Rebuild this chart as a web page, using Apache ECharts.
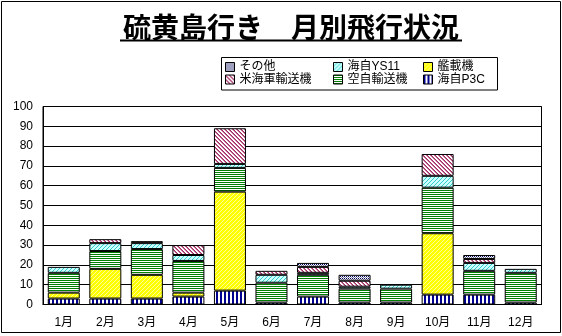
<!DOCTYPE html>
<html>
<head>
<meta charset="utf-8">
<script src="https://cdn.jsdelivr.net/npm/echarts@6/dist/echarts.min.js"></script>
<style>
html,body{margin:0;padding:0;background:#fff;}
#chart{width:562px;height:336px;}
</style>
</head>
<body>
<div id="chart"></div>
<script>
const titleText = '硫黄島行き　月別飛行状況';
const months = ['1月','2月','3月','4月','5月','6月','7月','8月','9月','10月','11月','12月'];
const yTicks = {min: 0, max: 100, interval: 10};

// stacked from bottom to top
const p3c    = [3, 3, 3, 4, 7, 1, 4, 1, 1, 5, 5, 1];   // 海自P3C
const kansai = [3, 15, 12, 2, 50, 0, 0, 0, 0, 31, 0, 0]; // 艦載機
const kuji   = [10, 9, 13, 16, 12, 10, 11, 7, 7, 23, 12, 15]; // 空自輸送機
const ys11   = [3, 4, 3, 3, 2, 4, 1, 1, 2, 6, 4, 2];   // 海自YS11
const usnavy = [0, 2, 1, 5, 18, 2, 3, 3, 0, 11, 2, 0]; // 米海軍輸送機
const other  = [0, 0, 0, 0, 0, 0, 2, 3, 0, 0, 2, 0];   // その他

function pat(w, h, draw) {
  const c = document.createElement('canvas');
  c.width = w; c.height = h;
  const g = c.getContext('2d');
  draw(g, w, h);
  return {image: c, repeat: 'repeat'};
}
function px(g, x, y, col) { g.fillStyle = col; g.fillRect(x, y, 1, 1); }

const patterns = {
  p3c: pat(4, 4, (g) => { g.fillStyle = '#fff'; g.fillRect(0,0,4,4); g.fillStyle = '#000090'; g.fillRect(0,0,2,4); }),
  kansai: pat(4, 4, (g) => { g.fillStyle = '#ffff00'; g.fillRect(0,0,4,4); for (let i=0;i<4;i++) px(g, i, 3-i, '#ffff99'); }),
  kuji: pat(2, 2, (g) => { g.fillStyle = '#fff'; g.fillRect(0,0,2,2); g.fillStyle = '#008000'; g.fillRect(0,0,2,1); }),
  ys11: pat(4, 4, (g) => { g.fillStyle = '#ccffff'; g.fillRect(0,0,4,4); for (let i=0;i<4;i++) { px(g, i, 3-i, '#33cccc'); } }),
  usnavy: pat(4, 4, (g) => { g.fillStyle = '#fff'; g.fillRect(0,0,4,4); for (let i=0;i<4;i++) { px(g, i, i, '#993366'); px(g, i, (i+1)%4, '#cc6699'); } }),
  other: pat(2, 2, (g) => { g.fillStyle = '#fff'; g.fillRect(0,0,2,2); px(g, 0, 0, '#000060'); px(g, 1, 1, '#8080a0'); })
};

const seriesDefs = [
  {name: '海自P3C', data: p3c, pattern: patterns.p3c},
  {name: '艦載機', data: kansai, pattern: patterns.kansai},
  {name: '空自輸送機', data: kuji, pattern: patterns.kuji},
  {name: '海自YS11', data: ys11, pattern: patterns.ys11},
  {name: '米海軍輸送機', data: usnavy, pattern: patterns.usnavy},
  {name: 'その他', data: other, pattern: patterns.other}
];

const legendPos = [
  {name: 'その他', left: 225, top: 60.5},
  {name: '米海軍輸送機', left: 225, top: 73},
  {name: '海自YS11', left: 333, top: 60.5},
  {name: '空自輸送機', left: 333, top: 73},
  {name: '艦載機', left: 423, top: 60.5},
  {name: '海自P3C', left: 423, top: 73}
];

const FONT = '"Liberation Sans", "Noto Sans CJK JP", sans-serif';

const chart = echarts.init(document.getElementById('chart'), null, {renderer: 'canvas'});
chart.setOption({
  animation: false,
  backgroundColor: '#fff',
  grid: {left: 43, right: 20.5, top: 106.5, bottom: 31.5, show: true, borderColor: '#000', borderWidth: 1, containLabel: false},
  legend: legendPos.map(p => ({
    data: [p.name], left: p.left, top: p.top, padding: 0, itemGap: 0,
    itemWidth: 9, itemHeight: 9, icon: 'rect', selectedMode: false,
    itemStyle: {borderColor: '#000', borderWidth: 1},
    textStyle: {fontSize: 12, lineHeight: 13, color: '#000', fontFamily: FONT}
  })),
  xAxis: {
    type: 'category', data: months,
    axisLine: {lineStyle: {color: '#000', width: 1}},
    axisTick: {show: false},
    axisLabel: {color: '#000', fontSize: 12, margin: 12, fontFamily: FONT}
  },
  yAxis: {
    type: 'value', min: yTicks.min, max: yTicks.max, interval: yTicks.interval,
    axisLine: {show: true, lineStyle: {color: '#000', width: 1}},
    axisTick: {show: false},
    axisLabel: {color: '#000', fontSize: 12, margin: 10, fontFamily: FONT},
    splitLine: {lineStyle: {color: '#000', width: 1}}
  },
  series: seriesDefs.map(s => ({
    name: s.name, type: 'bar', stack: 'total', barWidth: 32,
    data: s.data.map(v => v === 0 ? null : v),
    itemStyle: {color: s.pattern, borderColor: '#000', borderWidth: 1}
  })),
  graphic: [
    {type: 'rect', shape: {x: 1.5, y: 1.5, width: 559, height: 331}, style: {fill: 'none', stroke: '#000', lineWidth: 1}, silent: true, z: -1},
    {type: 'rect', shape: {x: 221.5, y: 57.5, width: 276, height: 32.5}, style: {fill: 'none', stroke: '#000', lineWidth: 1}, silent: true},
    {type: 'text', x: 291, y: 27, style: {text: titleText, fill: '#000', font: 'bold 28px "Noto Sans CJK JP", sans-serif', textAlign: 'center', textVerticalAlign: 'middle'}},
    {type: 'line', shape: {x1: 120, y1: 40.5, x2: 462, y2: 40.5}, style: {stroke: '#000', lineWidth: 2}}
  ]
});
</script>
</body>
</html>
